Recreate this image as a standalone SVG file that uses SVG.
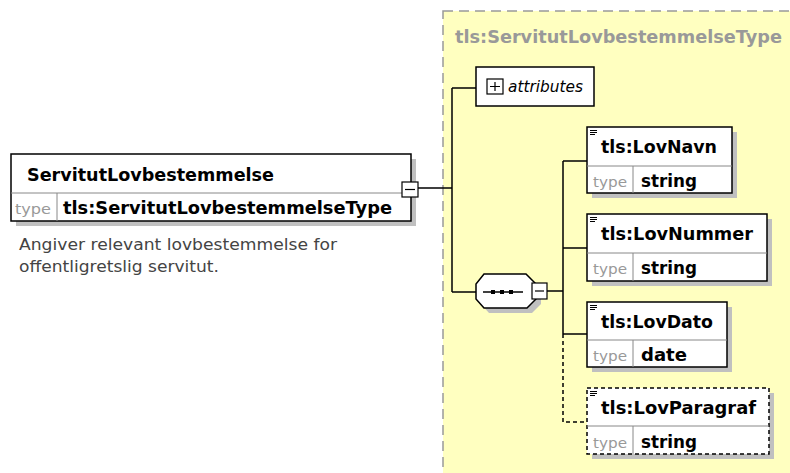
<svg xmlns="http://www.w3.org/2000/svg" width="790" height="473" viewBox="0 0 790 473">
<style>
.bx{fill:#fff;stroke:#000;stroke-width:1.5}
.dbx{fill:#fff;stroke:#000;stroke-width:1.5;stroke-dasharray:4,3}
.sh{fill:#c0c0c0}
.dv{stroke:#888;stroke-width:1}
.nm{font-family:"DejaVu Sans",sans-serif;font-weight:bold;font-size:18px;fill:#000}
.ty{font-family:"DejaVu Sans",sans-serif;font-size:14px;fill:#999}
.tv{font-family:"DejaVu Sans",sans-serif;font-weight:bold;font-size:17px;fill:#000}
.ln{stroke:#000;stroke-width:1.5;fill:none}
.dl{stroke:#000;stroke-width:1.5;fill:none;stroke-dasharray:4,3}
</style>
<rect x="443" y="11" width="350" height="470" fill="#ffffc0" stroke="#999" stroke-width="1.5" stroke-dasharray="10,6"/>
<text x="455" y="43" font-family="DejaVu Sans,sans-serif" font-weight="bold" font-size="18" fill="#999" textLength="327" lengthAdjust="spacingAndGlyphs">tls:ServitutLovbestemmelseType</text>

<g id="connectors">
<path class="ln" d="M418 188H452M452 88V292M452 88H476M452 292H476M547 291H563M563 161V334M563 161H587M563 248H587M563 334H587"/>
<path class="dl" d="M563 334V422H587"/>
</g>

<g id="root">
<rect class="sh" x="16" y="159" width="400" height="67"/>
<rect class="bx" x="11" y="154" width="400" height="67"/>
<line class="dv" x1="11" y1="193" x2="411" y2="193"/>
<line class="dv" x1="57" y1="193" x2="57" y2="221"/>
<text class="nm" x="27" y="181" textLength="247" lengthAdjust="spacingAndGlyphs">ServitutLovbestemmelse</text>
<text class="ty" x="15" y="214" textLength="36" lengthAdjust="spacingAndGlyphs">type</text>
<text class="tv" x="63" y="214" textLength="329" lengthAdjust="spacingAndGlyphs">tls:ServitutLovbestemmelseType</text>
<rect x="402" y="182" width="16" height="15" fill="#fff" stroke="#000" stroke-width="1.2"/>
<line x1="405" y1="189.5" x2="415" y2="189.5" stroke="#000" stroke-width="1.2"/>
<text font-family="DejaVu Sans,sans-serif" font-size="15" fill="#444"><tspan x="19" y="250" textLength="318" lengthAdjust="spacingAndGlyphs">Angiver relevant lovbestemmelse for</tspan><tspan x="19" y="272" textLength="200" lengthAdjust="spacingAndGlyphs">offentligretslig servitut.</tspan></text>
</g>

<g id="attributes">
<rect class="bx" x="476" y="67" width="118" height="39"/>
<rect x="487" y="79" width="16" height="15" fill="#fff" stroke="#000" stroke-width="1.2"/>
<path d="M490 86.5H500M495 82V91" stroke="#000" stroke-width="1.2"/>
<text x="508" y="92" font-family="DejaVu Sans,sans-serif" font-style="italic" font-size="15" fill="#000" textLength="75" lengthAdjust="spacingAndGlyphs">attributes</text>
</g>

<g id="sequence">
<path class="sh" d="M489 279H531L541 289V304L532 313H489L481 304V289Z"/>
<path d="M484 274H526L536 284V299L527 308H484L476 299V284Z" fill="#fff" stroke="#000" stroke-width="1.5"/>
<line x1="483" y1="292" x2="523" y2="292" stroke="#000" stroke-width="1.5"/>
<rect x="491" y="290" width="4" height="4"/>
<rect x="500" y="290" width="4" height="4"/>
<rect x="509" y="290" width="4" height="4"/>
<rect x="532" y="283" width="15" height="16" fill="#fff" stroke="#000" stroke-width="1.2"/>
<line x1="535" y1="291" x2="544" y2="291" stroke="#000" stroke-width="1.2"/>
</g>

<g id="LovNavn">
<rect class="sh" x="592" y="132" width="145" height="66"/>
<rect class="bx" x="587" y="127" width="145" height="66"/>
<line class="dv" x1="587" y1="166" x2="732" y2="166"/>
<line class="dv" x1="633" y1="166" x2="633" y2="193"/>
<path d="M590 130.5H597M590 132.5H597M590 134.5H595" stroke="#000" stroke-width="1"/>
<text class="nm" x="601" y="153" textLength="116" lengthAdjust="spacingAndGlyphs">tls:LovNavn</text>
<text class="ty" x="593" y="187" textLength="34" lengthAdjust="spacingAndGlyphs">type</text>
<text class="tv" x="641" y="187" textLength="56" lengthAdjust="spacingAndGlyphs">string</text>
</g>

<g id="LovNummer">
<rect class="sh" x="592" y="219" width="180" height="67"/>
<rect class="bx" x="587" y="214" width="180" height="67"/>
<line class="dv" x1="587" y1="253" x2="767" y2="253"/>
<line class="dv" x1="633" y1="253" x2="633" y2="281"/>
<path d="M590 217.5H597M590 219.5H597M590 221.5H595" stroke="#000" stroke-width="1"/>
<text class="nm" x="601" y="240" textLength="152" lengthAdjust="spacingAndGlyphs">tls:LovNummer</text>
<text class="ty" x="593" y="274" textLength="34" lengthAdjust="spacingAndGlyphs">type</text>
<text class="tv" x="641" y="274" textLength="56" lengthAdjust="spacingAndGlyphs">string</text>
</g>

<g id="LovDato">
<rect class="sh" x="592" y="307" width="140" height="65"/>
<rect class="bx" x="587" y="302" width="140" height="65"/>
<line class="dv" x1="587" y1="340" x2="727" y2="340"/>
<line class="dv" x1="633" y1="340" x2="633" y2="367"/>
<path d="M590 305.5H597M590 307.5H597M590 309.5H595" stroke="#000" stroke-width="1"/>
<text class="nm" x="601" y="328" textLength="112" lengthAdjust="spacingAndGlyphs">tls:LovDato</text>
<text class="ty" x="593" y="361" textLength="34" lengthAdjust="spacingAndGlyphs">type</text>
<text class="tv" x="641" y="361" textLength="46" lengthAdjust="spacingAndGlyphs">date</text>
</g>

<g id="LovParagraf">
<rect class="sh" x="592" y="393" width="182" height="66"/>
<rect class="dbx" x="587" y="388" width="182" height="66"/>
<line class="dv" x1="587" y1="426" x2="769" y2="426"/>
<line class="dv" x1="633" y1="426" x2="633" y2="454"/>
<path d="M590 391.5H597M590 393.5H597M590 395.5H595" stroke="#000" stroke-width="1"/>
<text class="nm" x="601" y="414" textLength="155" lengthAdjust="spacingAndGlyphs">tls:LovParagraf</text>
<text class="ty" x="593" y="448" textLength="34" lengthAdjust="spacingAndGlyphs">type</text>
<text class="tv" x="641" y="448" textLength="56" lengthAdjust="spacingAndGlyphs">string</text>
</g>
</svg>
